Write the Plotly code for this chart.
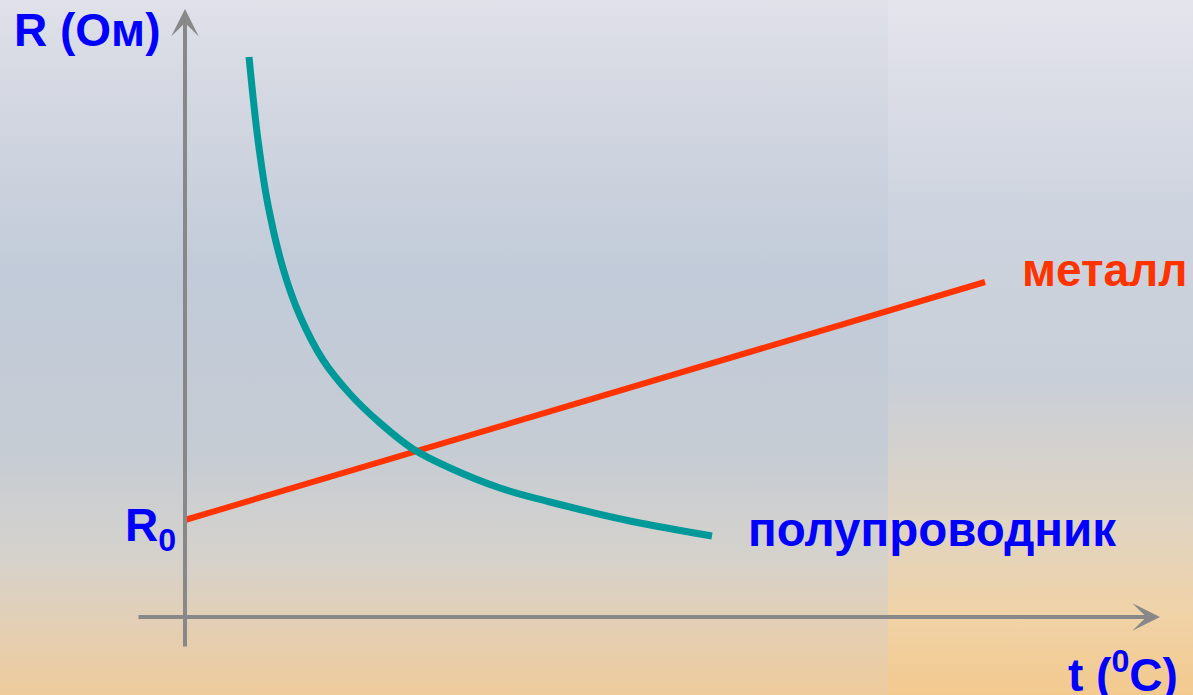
import base64
import plotly.graph_objects as go

# temperature / resistance in arbitrary units (origin of the axes at 0, 0)
metal_t = [0.0, 8.0]
metal_R = [0.97, 3.35]

semi_t = [0.64, 0.73, 0.83, 0.985, 1.15, 1.38, 1.65, 1.95, 2.28, 2.65,
          3.15, 3.65, 4.45, 5.27]
semi_R = [5.60, 4.77, 4.12, 3.47, 3.01, 2.57, 2.23, 1.94, 1.68, 1.49,
          1.29, 1.15, 0.96, 0.81]

labels = {
    "y_axis": "R (Ом)",
    "x_axis": "t (<sup>0</sup>C)",
    "r0": "R<sub>0</sub>",
    "metal": "металл",
    "semi": "полупроводник",
}

FONT = "Liberation Sans, Arial, sans-serif"
BLUE = "#0000ff"
RED = "#ff3300"
TEAL = "#009999"
GREY = "#888888"

# background: soft slide-like gradient
svg = """<svg xmlns="http://www.w3.org/2000/svg" width="1193" height="695" preserveAspectRatio="none">
<defs>
<linearGradient id="a" x1="0" y1="0" x2="0" y2="1">
<stop offset="0" stop-color="#e0e1e9"/>
<stop offset="0.15" stop-color="#d3d7e1"/>
<stop offset="0.4" stop-color="#c1cbd9"/>
<stop offset="0.65" stop-color="#c6ccd4"/>
<stop offset="0.8" stop-color="#d5d2cc"/>
<stop offset="0.9" stop-color="#e3cfb4"/>
<stop offset="1" stop-color="#efcb9c"/>
</linearGradient>
<linearGradient id="b" x1="0" y1="0" x2="0" y2="1">
<stop offset="0" stop-color="#e4e4ec"/>
<stop offset="0.3" stop-color="#ced4df"/>
<stop offset="0.55" stop-color="#c9cfd8"/>
<stop offset="0.75" stop-color="#e0d4c2"/>
<stop offset="0.88" stop-color="#f0d3a8"/>
<stop offset="1" stop-color="#f3c98e"/>
</linearGradient>
</defs>
<rect width="1193" height="695" fill="url(#a)"/>
<rect x="888" width="305" height="695" fill="url(#b)"/>
</svg>"""
bg_src = "data:image/svg+xml;base64," + base64.b64encode(svg.encode()).decode()

fig = go.Figure()

fig.add_trace(go.Scatter(x=metal_t, y=metal_R, mode="lines",
                         line=dict(color=RED, width=6), hoverinfo="skip"))
fig.add_trace(go.Scatter(x=semi_t, y=semi_R, mode="lines",
                         line=dict(color=TEAL, width=7, shape="spline", smoothing=1),
                         hoverinfo="skip"))

# axes with arrows
fig.add_annotation(x=0, y=6.08, ax=0, ay=-0.31, xref="x", yref="y", axref="x", ayref="y",
                   text="", showarrow=True, arrowhead=3, arrowsize=1.15, arrowwidth=4,
                   arrowcolor=GREY, standoff=0)
fig.add_annotation(x=9.75, y=0, ax=-0.48, ay=0, xref="x", yref="y", axref="x", ayref="y",
                   text="", showarrow=True, arrowhead=3, arrowsize=1.15, arrowwidth=4,
                   arrowcolor=GREY, standoff=0)

def label(txt, x, y, color, size=46):
    fig.add_annotation(x=x, y=y, xref="x", yref="y", text=txt, showarrow=False,
                       xanchor="left", yanchor="middle",
                       font=dict(family=FONT, size=size, color=color, weight="bold"))

label(labels["y_axis"], -1.73, 5.87, BLUE)
label(labels["r0"], -0.62, 0.89, BLUE)
label(labels["metal"], 8.35, 3.47, RED)
label(labels["semi"], 5.61, 0.88, BLUE, size=47.5)
label(labels["x_axis"], 8.81, -0.55, BLUE)

fig.update_layout(
    width=1193, height=695,
    margin=dict(l=0, r=0, t=0, b=0),
    paper_bgcolor="#cfd5de",
    plot_bgcolor="rgba(0,0,0,0)",
    showlegend=False,
    images=[dict(source=bg_src, xref="paper", yref="paper", x=0, y=1,
                 sizex=1, sizey=1, sizing="stretch", layer="below")],
    xaxis=dict(range=[-1.85, 10.08], visible=False, fixedrange=True),
    yaxis=dict(range=[-0.78, 6.17], visible=False, fixedrange=True),
)

fig.write_html("out.html", config={"displayModeBar": False},
               post_script="document.body.style.margin='0';document.body.style.overflow='hidden';")
